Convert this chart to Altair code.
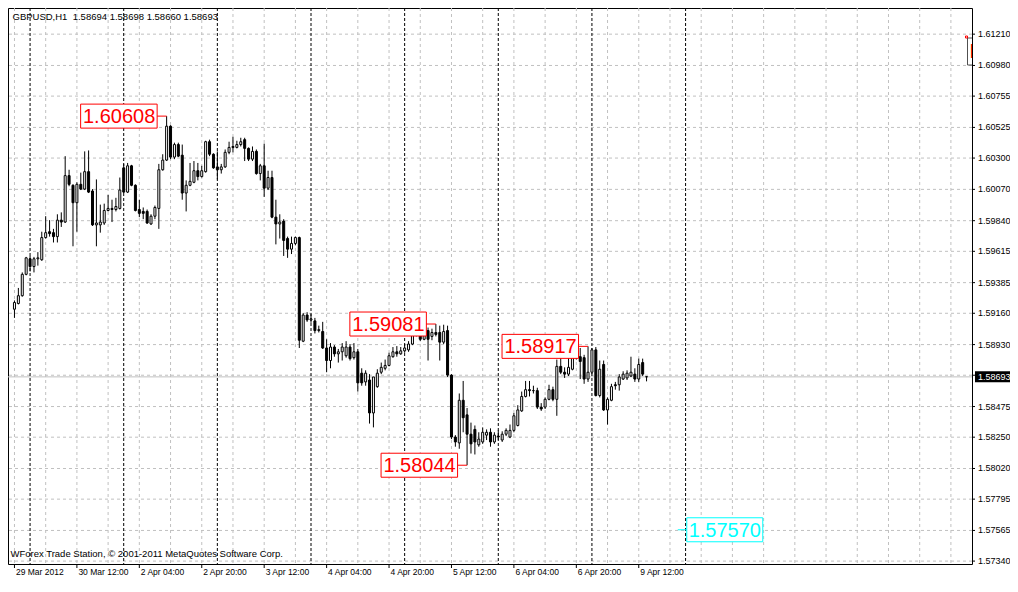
import altair as alt
import pandas as pd

# ---------------- data ----------------
symbol = "GBPUSD,H1"
bar_open = [
    1.59190, 1.59232, 1.59289, 1.59446, 1.59560, 1.59503, 1.59560, 1.59553, 1.59716, 1.59759,
    1.59752, 1.59723, 1.59844, 1.59830, 1.60171, 1.60100, 1.59972, 1.60107, 1.60072, 1.60200,
    1.60058, 1.59809, 1.59809, 1.59823, 1.59915, 1.59930, 1.59922, 1.59930, 1.60228, 1.60050,
    1.60243, 1.60100, 1.59922, 1.59908, 1.59908, 1.59816, 1.59873, 1.59930, 1.60214, 1.60285,
    1.60534, 1.60307, 1.60399, 1.60321, 1.60043, 1.60100, 1.60122, 1.60207, 1.60164, 1.60200,
    1.60420, 1.60328, 1.60235, 1.60214, 1.60235, 1.60342, 1.60385, 1.60378, 1.60399, 1.60435,
    1.60371, 1.60292, 1.60349, 1.60186, 1.60243, 1.60079, 1.60157, 1.59866, 1.59816, 1.59837,
    1.59709, 1.59631, 1.59673, 1.59716, 1.58955, 1.59147, 1.59111, 1.59104, 1.59033, 1.59026,
    1.58905, 1.58813, 1.58912, 1.58862, 1.58877, 1.58848, 1.58912, 1.58834, 1.58877, 1.58720,
    1.58656, 1.58670, 1.58428, 1.58621, 1.58727, 1.58756, 1.58777, 1.58841, 1.58877, 1.58862,
    1.58884, 1.58891, 1.58934, 1.59005, 1.59040, 1.58969, 1.59033, 1.58990, 1.59019, 1.59019,
    1.58948, 1.59033, 1.58706, 1.58251, 1.58208, 1.58521, 1.58414, 1.58272, 1.58307, 1.58194,
    1.58215, 1.58265, 1.58286, 1.58215, 1.58258, 1.58229, 1.58272, 1.58251, 1.58300, 1.58336,
    1.58443, 1.58549, 1.58599, 1.58592, 1.58592, 1.58471, 1.58471, 1.58528, 1.58599, 1.58528,
    1.58770, 1.58727, 1.58713, 1.58749, 1.58877, 1.58841, 1.58834, 1.58677, 1.58727, 1.58891,
    1.58556, 1.58784, 1.58450, 1.58521, 1.58635, 1.58635, 1.58677, 1.58685, 1.58699, 1.58713,
    1.58677, 1.58798, 1.58694,
]
bar_high = [
    1.59254, 1.59346, 1.59460, 1.59574, 1.59581, 1.59574, 1.59609, 1.59759, 1.59873, 1.59844,
    1.59780, 1.59887, 1.59901, 1.60314, 1.60214, 1.60107, 1.60122, 1.60193, 1.60349, 1.60356,
    1.60072, 1.60143, 1.59958, 1.59965, 1.60029, 1.59994, 1.60008, 1.60157, 1.60257, 1.60264,
    1.60250, 1.60107, 1.59994, 1.59937, 1.59922, 1.59887, 1.59951, 1.60257, 1.60328, 1.60608,
    1.60541, 1.60413, 1.60413, 1.60399, 1.60136, 1.60264, 1.60278, 1.60264, 1.60243, 1.60427,
    1.60435, 1.60335, 1.60349, 1.60257, 1.60363, 1.60420, 1.60456, 1.60427, 1.60449, 1.60449,
    1.60378, 1.60385, 1.60363, 1.60257, 1.60406, 1.60207, 1.60207, 1.59994, 1.59887, 1.59851,
    1.59723, 1.59723, 1.59723, 1.59723, 1.59161, 1.59168, 1.59154, 1.59126, 1.59069, 1.59097,
    1.58969, 1.58941, 1.58926, 1.58898, 1.58941, 1.58955, 1.58934, 1.58941, 1.58898, 1.58756,
    1.58741, 1.58713, 1.58692, 1.58749, 1.58798, 1.58820, 1.58870, 1.58912, 1.58919, 1.58912,
    1.58934, 1.58955, 1.59026, 1.59047, 1.59069, 1.59047, 1.59055, 1.59047, 1.59081, 1.59069,
    1.59076, 1.59069, 1.58713, 1.58265, 1.58571, 1.58663, 1.58464, 1.58357, 1.58336, 1.58286,
    1.58322, 1.58307, 1.58315, 1.58286, 1.58300, 1.58293, 1.58315, 1.58343, 1.58428, 1.58485,
    1.58585, 1.58663, 1.58663, 1.58628, 1.58613, 1.58500, 1.58542, 1.58635, 1.58621, 1.58820,
    1.58834, 1.58763, 1.58834, 1.58870, 1.58905, 1.58905, 1.58855, 1.58917, 1.58905, 1.58912,
    1.58813, 1.58813, 1.58542, 1.58642, 1.58656, 1.58713, 1.58734, 1.58741, 1.58841, 1.58756,
    1.58827, 1.58827, 1.58698,
]
bar_low = [
    1.59126, 1.59225, 1.59282, 1.59439, 1.59467, 1.59460, 1.59510, 1.59545, 1.59709, 1.59723,
    1.59680, 1.59680, 1.59794, 1.59823, 1.60093, 1.59652, 1.59759, 1.60065, 1.60065, 1.60043,
    1.59801, 1.59652, 1.59752, 1.59809, 1.59908, 1.59830, 1.59908, 1.59922, 1.60043, 1.60043,
    1.60093, 1.59908, 1.59866, 1.59851, 1.59816, 1.59809, 1.59851, 1.59780, 1.60207, 1.60278,
    1.60292, 1.60292, 1.60307, 1.59994, 1.59908, 1.60093, 1.60115, 1.60136, 1.60157, 1.60193,
    1.60314, 1.60221, 1.60143, 1.60186, 1.60228, 1.60328, 1.60342, 1.60371, 1.60385, 1.60278,
    1.60278, 1.60278, 1.60178, 1.60136, 1.60015, 1.60065, 1.59858, 1.59666, 1.59709, 1.59581,
    1.59567, 1.59595, 1.59659, 1.58905, 1.58948, 1.59097, 1.59090, 1.59012, 1.59019, 1.58898,
    1.58727, 1.58756, 1.58841, 1.58798, 1.58813, 1.58834, 1.58813, 1.58820, 1.58585, 1.58628,
    1.58628, 1.58350, 1.58322, 1.58613, 1.58713, 1.58741, 1.58770, 1.58834, 1.58841, 1.58855,
    1.58870, 1.58877, 1.58926, 1.58990, 1.58955, 1.58962, 1.58813, 1.58962, 1.58990, 1.58813,
    1.58934, 1.58692, 1.58236, 1.58180, 1.58165, 1.58286, 1.58044, 1.58130, 1.58123, 1.58180,
    1.58201, 1.58229, 1.58180, 1.58201, 1.58229, 1.58215, 1.58258, 1.58243, 1.58286, 1.58329,
    1.58436, 1.58542, 1.58549, 1.58571, 1.58457, 1.58443, 1.58457, 1.58521, 1.58514, 1.58407,
    1.58713, 1.58685, 1.58699, 1.58741, 1.58820, 1.58677, 1.58642, 1.58656, 1.58713, 1.58549,
    1.58542, 1.58443, 1.58343, 1.58514, 1.58599, 1.58592, 1.58670, 1.58670, 1.58692, 1.58656,
    1.58656, 1.58699, 1.58660,
]
bar_close = [
    1.59239, 1.59289, 1.59446, 1.59567, 1.59503, 1.59560, 1.59567, 1.59716, 1.59752, 1.59745,
    1.59723, 1.59844, 1.59830, 1.60171, 1.60107, 1.59972, 1.60107, 1.60072, 1.60200, 1.60050,
    1.59809, 1.59823, 1.59830, 1.59915, 1.59930, 1.59922, 1.59944, 1.60065, 1.60050, 1.60243,
    1.60100, 1.59915, 1.59894, 1.59894, 1.59823, 1.59873, 1.59937, 1.60214, 1.60285, 1.60534,
    1.60307, 1.60399, 1.60314, 1.60043, 1.60100, 1.60129, 1.60207, 1.60164, 1.60207, 1.60420,
    1.60328, 1.60228, 1.60214, 1.60235, 1.60342, 1.60378, 1.60378, 1.60399, 1.60420, 1.60371,
    1.60292, 1.60349, 1.60186, 1.60243, 1.60079, 1.60157, 1.59866, 1.59816, 1.59830, 1.59695,
    1.59631, 1.59673, 1.59716, 1.58962, 1.59147, 1.59111, 1.59119, 1.59033, 1.59040, 1.58905,
    1.58813, 1.58912, 1.58862, 1.58877, 1.58912, 1.58912, 1.58827, 1.58877, 1.58649, 1.58649,
    1.58720, 1.58428, 1.58692, 1.58720, 1.58763, 1.58777, 1.58848, 1.58877, 1.58862, 1.58884,
    1.58905, 1.58934, 1.59012, 1.59019, 1.58969, 1.59033, 1.58969, 1.59019, 1.59005, 1.58948,
    1.59026, 1.58706, 1.58251, 1.58215, 1.58521, 1.58393, 1.58272, 1.58201, 1.58215, 1.58236,
    1.58286, 1.58286, 1.58215, 1.58265, 1.58251, 1.58272, 1.58300, 1.58300, 1.58407, 1.58450,
    1.58549, 1.58599, 1.58592, 1.58592, 1.58471, 1.58457, 1.58528, 1.58599, 1.58528, 1.58770,
    1.58727, 1.58713, 1.58763, 1.58841, 1.58834, 1.58806, 1.58677, 1.58727, 1.58891, 1.58556,
    1.58749, 1.58450, 1.58528, 1.58621, 1.58628, 1.58692, 1.58713, 1.58720, 1.58727, 1.58677,
    1.58784, 1.58713, 1.58693,
]

x_tick_bars = [0, 16, 32, 48, 64, 80, 96, 112, 128, 144, 160]
x_tick_labels = ["29 Mar 2012", "30 Mar 12:00", "2 Apr 04:00", "2 Apr 20:00", "3 Apr 12:00",
                 "4 Apr 04:00", "4 Apr 20:00", "5 Apr 12:00", "6 Apr 04:00", "6 Apr 20:00",
                 "9 Apr 12:00"]
x_grid_bars = list(range(0, 241, 8))
day_start_bars = [4, 28, 52, 76, 100, 124, 148, 172]
y_tick_values = [1.61210, 1.60980, 1.60755, 1.60525, 1.60300, 1.60070, 1.59840, 1.59615,
                 1.59385, 1.59160, 1.58930, 1.58705, 1.58475, 1.58250, 1.58020, 1.57795,
                 1.57565, 1.57340]
hidden_y_label = 1.58705
peak_bars = [39, 108, 147, 116]
peak_prices = [1.60608, 1.59081, 1.58917, 1.58044]
target_bar = 170
target_price = 1.57570
last_bid = bar_close[-1]
copyright_text = "WForex Trade Station, \u00a9 2001-2011 MetaQuotes Software Corp."

# ---------------- layout ----------------
W, H = 964, 556
X_DOMAIN = [-0.375, 244.125]
Y_DOMAIN = [1.573186, 1.614020]
AX_FONT = "Liberation Sans"
AX_SIZE = 8.5
YAX_SIZE = 9
INFO_SIZE = 9.5
LBL_FONT = "Liberation Sans"
LBL_SIZE = 20
GRID = "#c0c0c0"

xs = alt.Scale(domain=X_DOMAIN, nice=False, zero=False)
ys = alt.Scale(domain=Y_DOMAIN, nice=False, zero=False)


def X(field):
    return alt.X(field, scale=xs, axis=None, title=None)


def Y(field):
    return alt.Y(field, scale=ys, axis=None, title=None)


df = pd.DataFrame({"i": list(range(len(bar_open))), "o": bar_open, "h": bar_high,
                   "l": bar_low, "c": bar_close})

# ---- grid ----
yg_df = pd.DataFrame({"p": y_tick_values})
y_grid = alt.Chart(yg_df).mark_rule(color=GRID, strokeDash=[3, 3], strokeWidth=1).encode(y=Y("p:Q"))
xg_df = pd.DataFrame({"b": x_grid_bars})
x_grid = alt.Chart(xg_df).mark_rule(color=GRID, strokeDash=[3, 3], strokeWidth=1).encode(x=X("b:Q"))

# ---- price axis (right) ----
yl_df = pd.DataFrame({
    "p": [v for v in y_tick_values if abs(v - hidden_y_label) > 1e-9],
    "t": [f"{v:.5f}" for v in y_tick_values if abs(v - hidden_y_label) > 1e-9],
})
y_ticks = alt.Chart(yg_df).mark_rule(color="black", strokeWidth=1).encode(
    x=alt.value(W), x2=alt.value(W + 3), y=Y("p:Q"))
y_labels = alt.Chart(yl_df).mark_text(align="left", baseline="middle", font=AX_FONT,
                                      fontSize=YAX_SIZE, color="black").encode(
    x=alt.value(W + 6), y=Y("p:Q"), text="t:N")

# ---- time axis (bottom) ----
xt_df = pd.DataFrame({"b": x_tick_bars, "t": x_tick_labels})
x_ticks = alt.Chart(xt_df).mark_rule(color="black", strokeWidth=1).encode(
    x=X("b:Q"), y=alt.value(H), y2=alt.value(H + 4))
x_labels = alt.Chart(xt_df).mark_text(align="left", baseline="top", font=AX_FONT,
                                      fontSize=AX_SIZE, color="black", dx=1.5).encode(
    x=X("b:Q"), y=alt.value(H + 3.5), text="t:N")

# ---- day separators ----
sep_df = pd.DataFrame({"b": day_start_bars})
separators = alt.Chart(sep_df).mark_rule(color="black", strokeDash=[3, 2], strokeWidth=1).encode(
    x=X("b:Q"))

# ---- candles ----
wicks = alt.Chart(df).mark_rule(color="black", strokeWidth=1).encode(
    x=X("i:Q"), y=Y("l:Q"), y2="h:Q")
bodies = alt.Chart(df).mark_bar(width=2, stroke="black", strokeWidth=1).encode(
    x=X("i:Q"), y=Y("o:Q"), y2="c:Q",
    fill=alt.condition("datum.c >= datum.o", alt.value("white"), alt.value("black")),
)

# ---- bid line and price tag ----
bid_df = pd.DataFrame({"p": [last_bid], "t": [f"{last_bid:.5f}"]})
bid_line = alt.Chart(bid_df).mark_rule(color=GRID, strokeWidth=1).encode(y=Y("p:Q"))
bid_box = alt.Chart(bid_df).mark_rect(fill="black", yOffset=-5.5, y2Offset=5.5).encode(
    x=alt.value(W + 3), x2=alt.value(W + 48), y=Y("p:Q"), y2="p:Q")
bid_text = alt.Chart(bid_df).mark_text(color="white", font=AX_FONT, fontSize=YAX_SIZE,
                                       align="left", baseline="middle", dy=0.5).encode(
    x=alt.value(W + 6), y=Y("p:Q"), text="t:N")

# ---- peak / trough labels (red, left of the bar) ----
pk_df = pd.DataFrame({"b": peak_bars, "p": peak_prices, "t": [f"{v:.5f}" for v in peak_prices]})
pk_box = alt.Chart(pk_df).mark_rect(fill="white", stroke="red", strokeWidth=1,
                                    xOffset=-86, x2Offset=-9.5, yOffset=-12, y2Offset=12).encode(
    x=X("b:Q"), x2="b:Q", y=Y("p:Q"), y2="p:Q")
pk_line = alt.Chart(pk_df).mark_rule(color="red", strokeWidth=1, xOffset=-9.5, x2Offset=0).encode(
    x=X("b:Q"), x2="b:Q", y=Y("p:Q"))
pk_text = alt.Chart(pk_df).mark_text(color="red", font=LBL_FONT, fontSize=LBL_SIZE, align="center",
                                     baseline="middle", dx=-47.5, dy=1).encode(
    x=X("b:Q"), y=Y("p:Q"), text="t:N")

# ---- projection label (cyan, right of the point) ----
tg_df = pd.DataFrame({"b": [target_bar], "p": [target_price], "t": [f"{target_price:.5f}"]})
tg_box = alt.Chart(tg_df).mark_rect(fill="white", stroke="#00ffff", strokeWidth=1,
                                    xOffset=9, x2Offset=85, yOffset=-12, y2Offset=12).encode(
    x=X("b:Q"), x2="b:Q", y=Y("p:Q"), y2="p:Q")
tg_line = alt.Chart(tg_df).mark_rule(color="#00ffff", strokeWidth=1, xOffset=0, x2Offset=9).encode(
    x=X("b:Q"), x2="b:Q", y=Y("p:Q"))
tg_text = alt.Chart(tg_df).mark_text(color="#00ffff", font=LBL_FONT, fontSize=LBL_SIZE, align="center",
                                     baseline="middle", dx=47, dy=1).encode(
    x=X("b:Q"), y=Y("p:Q"), text="t:N")

# ---- header and footer texts ----
o, h, l, c = bar_open[-1], bar_high[-1], bar_low[-1], bar_close[-1]
header = f"{symbol}\u00a0 {o:.5f} {h:.5f} {l:.5f} {c:.5f}"
one = pd.DataFrame({"k": [0]})
head_text = alt.Chart(one).mark_text(align="left", baseline="middle", font=AX_FONT,
                                     fontSize=INFO_SIZE, color="black").encode(
    x=alt.value(4.5), y=alt.value(8.5), text=alt.value(header))
foot_text = alt.Chart(one).mark_text(align="left", baseline="middle", font=AX_FONT,
                                     fontSize=INFO_SIZE, color="black").encode(
    x=alt.value(2.5), y=alt.value(H - 10.5), text=alt.value(copyright_text))

# ---- clipped object at the right edge ----
edge_box = alt.Chart(one).mark_rect(fill="white", stroke="#505050", strokeWidth=1, clip=True).encode(
    x=alt.value(W - 4.5), x2=alt.value(W + 3), y=alt.value(30), y2=alt.value(57))
edge_dot = alt.Chart(one).mark_rect(fill="white", stroke="red", strokeWidth=1).encode(
    x=alt.value(W - 6.5), x2=alt.value(W - 4.5), y=alt.value(28), y2=alt.value(30))
edge_text = alt.Chart(one).mark_text(align="left", baseline="middle", font=LBL_FONT,
                                     fontSize=20, color="red", clip=True).encode(
    x=alt.value(W - 2.5), y=alt.value(44), text=alt.value("F"))

chart = alt.layer(
    y_grid, x_grid, separators, bid_line, wicks, bodies,
    x_ticks, x_labels, y_ticks, y_labels,
    pk_box, pk_line, pk_text, tg_box, tg_line, tg_text,
    edge_box, edge_dot, edge_text,
    head_text, foot_text, bid_box, bid_text,
).properties(
    width=W, height=H,
    autosize=alt.AutoSizeParams(type="none"),
    padding={"left": 0, "top": 0, "right": 38, "bottom": 14},
).configure(background="white").configure_view(stroke="black", strokeWidth=1)

chart.save("out.html", embed_options={"renderer": "svg", "actions": False})
